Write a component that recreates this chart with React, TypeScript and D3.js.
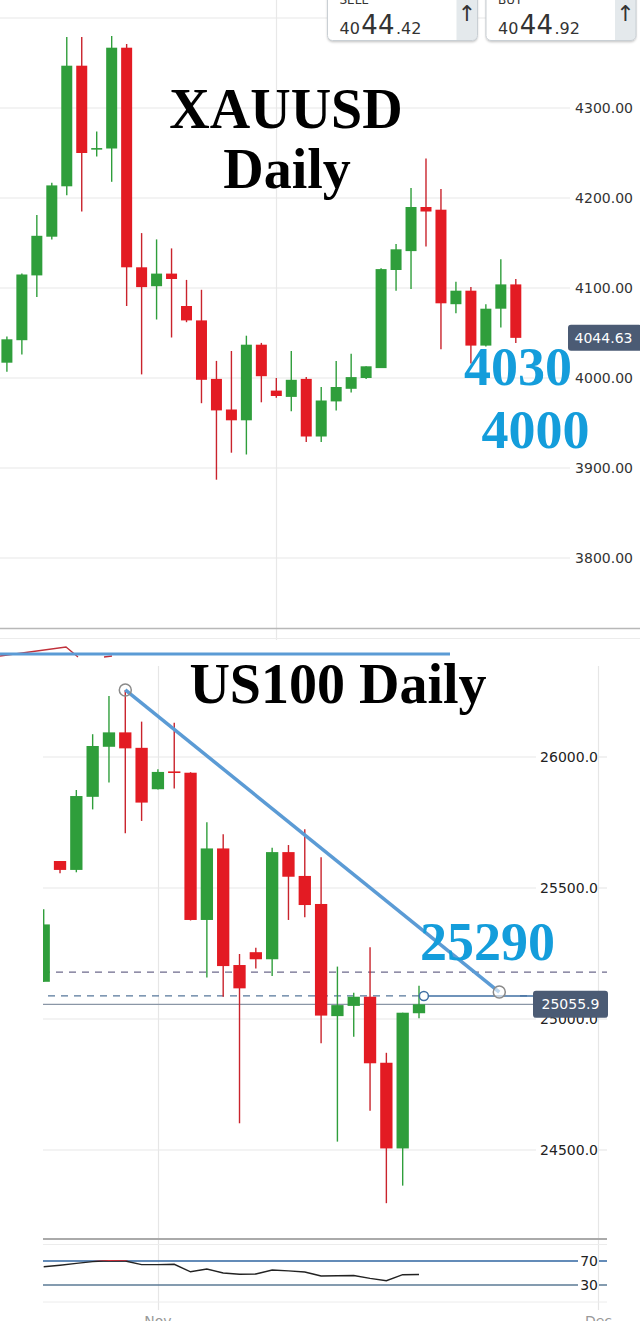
import React from "react";
import * as d3 from "d3";

// ---------- XAUUSD daily (top panel) ----------
const xauOpen = [4017, 4042, 4114, 4157, 4213, 4347, 4254.5, 4255, 4367, 4123, 4102, 4116, 4080, 4064, 3999, 3965, 3953, 4037, 3986, 3979, 3999, 3935, 3974, 3988, 4000, 4011, 4120, 4141, 4190, 4187, 4082, 4097, 4036, 4077, 4104];
const xauHigh = [4046, 4116, 4181, 4217, 4379, 4379, 4274, 4380, 4371, 4161, 4154, 4144, 4109, 4098, 4019, 4030, 4047, 4039, 4000, 4030, 4001, 3990, 4019, 4027, 4013, 4122, 4149, 4211, 4244, 4210, 4107, 4101, 4082, 4132, 4110];
const xauLow = [4007, 4026, 4090, 4154, 4203, 4185, 4246, 4218, 4080, 4004, 4065, 4045, 4062, 3972, 3887, 3917, 3915, 3973, 3978, 3963, 3929, 3929, 3964, 3984, 3999, 4011, 4097, 4099, 4146, 4032, 4072, 4016, 4035, 4056, 4039];
const xauClose = [4043, 4115, 4158, 4214, 4347, 4250, 4255.5, 4367, 4123, 4101, 4116, 4110, 4064, 3998, 3964, 3953, 4037, 4002, 3980, 3998, 3935, 3975, 3990, 4001, 4013, 4121, 4143, 4190, 4185, 4083, 4097, 4036, 4077, 4104, 4044.6];
const xauGrid = [4400, 4300, 4200, 4100, 4000, 3900, 3800];
const xauTickLabels = [4300, 4200, 4100, 4000, 3900, 3800];
const xauLastPrice = 4044.63;
const xauTargets = ["4030", "4000"];
const xauVGridIndex = [18];

// ---------- US100 daily (bottom panel) ----------
const nasOpen = [25142, 25603, 25569, 25848, 26039, 26094, 26035, 25877, 25945, 25940, 25378, 25651, 25206, 25255, 25228, 25637, 25546, 25439, 25011, 25050, 25085, 24833, 24506, 25022];
const nasHigh = [25419, 25603, 25874, 26087, 26233, 26256, 26135, 25953, 26131, 25942, 25751, 25705, 25248, 25272, 25654, 25664, 25724, 25617, 25200, 25100, 25274, 24871, 25024, 25127];
const nasLow = [25142, 25556, 25560, 25800, 25903, 25709, 25756, 25876, 25880, 25376, 25158, 25085, 24602, 25193, 25164, 25378, 25388, 24907, 24532, 24932, 24650, 24297, 24364, 25003];
const nasClose = [25361, 25569, 25851, 26042, 26094, 26033, 25826, 25943, 25941, 25378, 25651, 25202, 25117, 25228, 25637, 25543, 25435, 25013, 25053, 25085, 24831, 24506, 25024, 25056];
const nasTicks = [26000, 25500, 25000, 24500];
const nasLastPrice = 25055.9;
const nasRsi = [60.5, 63, 66, 69, 70.5, 70, 64, 64, 64.5, 52, 56.7, 50, 48, 48.3, 55, 53.5, 51.7, 45, 45.3, 45.8, 41, 37.2, 47.2, 47.5];
const rsiTicks = [70, 30];
const dateLabels = ["Nov", "Dec"];
const dateIndex = [7, 34];
const nasTrend = [[5, 26256], [27.92, 25103]];
const nasDashed = [25179, 25088];
const nasLevel = { index: 23.3, value: 25088 };
const nasTarget = "25290";

const GREEN = "#2f9e3b";
const RED = "#e31b23";
const RED_WICK = "#c9232c";
const BLUE_TXT = "#149ddb";
const TREND = "#5b9bd5";
const SANS = "DejaVu Sans, sans-serif";
const SERIF = "Liberation Serif, Times New Roman, serif";

function Candles({ open, high, low, close, x, y, w }) {
  return (
    <g>
      {open.map((o, i) => {
        const c = close[i];
        const up = c >= o;
        const col = up ? GREEN : RED;
        const top = y(Math.max(o, c));
        const bot = y(Math.min(o, c));
        const cx = x(i);
        return (
          <g key={i}>
            <line x1={cx} x2={cx} y1={y(high[i])} y2={y(low[i])} stroke={up ? GREEN : RED_WICK} strokeWidth={1.4} />
            <rect x={cx - w / 2} y={top} width={w} height={Math.max(1.6, bot - top)} fill={col} />
          </g>
        );
      })}
    </g>
  );
}

function PriceBox({ x0, label, big, tail, small }) {
  const w = 150;
  return (
    <g>
      <defs>
        <clipPath id={"clip-" + label}>
          <rect x={x0} y={-10} width={w} height={50.5} rx={5} />
        </clipPath>
      </defs>
      <rect x={x0} y={-10} width={w} height={50.5} rx={5} fill="#fff" filter="url(#shadow)" />
      <rect x={x0 + w - 21} y={-10} width={21} height={51} fill="#e4e9ec" clipPath={`url(#clip-${label})`} />
      <rect x={x0} y={-10} width={w} height={50.5} rx={5} fill="none" stroke="#c9cfd4" strokeWidth={1} />
      <text x={x0 + 12} y={4} fontFamily={SANS} fontSize={12} fill="#333">{label}</text>
      <text x={x0 + w - 10.5} y={21} textAnchor="middle" fontFamily={SANS} fontSize={22} fill="#333">↑</text>
      <text x={x0 + 12} y={34} fontFamily={SANS} fill="#333">
        <tspan fontSize={16}>{small}</tspan>
        <tspan fontSize={26} dx={1.5}>{big}</tspan>
        <tspan fontSize={16} dx={1.5}>{tail}</tspan>
      </text>
    </g>
  );
}

export default function App() {
  // top panel scales
  const xX = d3.scaleLinear().domain([0, 34]).range([6.9, 515.8]);
  const yX = d3.scaleLinear().domain([3800, 4400]).range([558, 18]);
  // bottom panel scales
  const xN = d3.scaleLinear().domain([0, 23]).range([43.7, 419]);
  const yN = d3.scaleLinear().domain([24500, 26000]).range([1150, 757]);
  const yR = d3.scaleLinear().domain([30, 70]).range([1285, 1261]);

  const rsiLine = d3.line<number>().x((_, i) => xN(i)).y((d) => yR(d));

  // decorative remnant of the upper screenshot's indicator
  const remnant = d3.line()([[0, 656], [66, 647], [78, 657]]);

  return (
    <svg width={640} height={1321} style={{ position: "absolute", left: 0, top: 0, background: "#fff" }} xmlns="http://www.w3.org/2000/svg">
      <defs>
        <filter id="shadow" x="-10%" y="-10%" width="120%" height="140%">
          <feDropShadow dx={0} dy={1.5} stdDeviation={1.2} floodColor="#000" floodOpacity={0.25} />
        </filter>
        <clipPath id="nasClip">
          <rect x={43} y={660} width={557} height={580} />
        </clipPath>
        <clipPath id="rsiAbove">
          <rect x={43} y={1200} width={560} height={yR(70) - 1200} />
        </clipPath>
      </defs>
      <rect x={0} y={0} width={640} height={1321} fill="#fff" />

      {/* ===== TOP PANEL ===== */}
      {xauVGridIndex.map((i) => (
        <line key={i} x1={Math.round(xX(i)) + 0.5} x2={Math.round(xX(i)) + 0.5} y1={0} y2={640} stroke="#e8e8e8" strokeWidth={1.2} />
      ))}
      {xauGrid.map((t) => (
        <line key={t} x1={0} x2={570} y1={yX(t)} y2={yX(t)} stroke="#e8e8e8" strokeWidth={1.2} />
      ))}
      {xauTickLabels.map((t) => (
        <text key={t} x={633} y={yX(t)} dy="0.36em" textAnchor="end" fontFamily={SANS} fontSize={14} fill="#333">{t.toFixed(2)}</text>
      ))}
      <Candles open={xauOpen} high={xauHigh} low={xauLow} close={xauClose} x={xX} y={yX} w={11} />

      <text x={286} y={128} textAnchor="middle" fontFamily={SERIF} fontWeight="bold" fontSize={56} fill="#000">XAUUSD</text>
      <text x={287} y={188} textAnchor="middle" fontFamily={SERIF} fontWeight="bold" fontSize={56} fill="#000">Daily</text>

      <rect x={568} y={yX(xauLastPrice) - 13} width={74} height={26} rx={3} fill="#4b5b74" />
      <text x={603.5} y={yX(xauLastPrice)} dy="0.36em" textAnchor="middle" fontFamily={SANS} fontSize={14} fill="#fff">{xauLastPrice.toFixed(2)}</text>

      <text x={518} y={385} textAnchor="middle" fontFamily={SERIF} fontWeight="bold" fontSize={54} fill={BLUE_TXT}>{xauTargets[0]}</text>
      <text x={535.5} y={448} textAnchor="middle" fontFamily={SERIF} fontWeight="bold" fontSize={54} fill={BLUE_TXT}>{xauTargets[1]}</text>

      <PriceBox x0={327.5} label="SELL" small="40" big="44" tail=".42" />
      <PriceBox x0={486} label="BUY" small="40" big="44" tail=".92" />

      {/* panel separator */}
      <line x1={0} x2={640} y1={628.5} y2={628.5} stroke="#b8b8b8" strokeWidth={1.5} />
      <line x1={0} x2={640} y1={638.5} y2={638.5} stroke="#ececec" strokeWidth={1} />
      <path d={remnant} fill="none" stroke="#c0303a" strokeWidth={1.3} />
      <line x1={104} x2={112} y1={657} y2={656} stroke="#c0303a" strokeWidth={1.3} />
      <line x1={0} x2={450} y1={654} y2={654} stroke={TREND} strokeWidth={3} />

      {/* ===== BOTTOM PANEL ===== */}
      {dateIndex.map((i) => (
        <line key={i} x1={Math.round(xN(i)) + 0.5} x2={Math.round(xN(i)) + 0.5} y1={666} y2={1310} stroke="#e6e6e6" strokeWidth={1.2} />
      ))}
      {nasTicks.map((t) => (
        <g key={t}>
          <line x1={43} x2={536} y1={yN(t)} y2={yN(t)} stroke="#e8e8e8" strokeWidth={1.2} />
          <line x1={599} x2={607} y1={yN(t)} y2={yN(t)} stroke="#e8e8e8" strokeWidth={1.2} />
          <text x={598} y={yN(t)} dy="0.36em" textAnchor="end" fontFamily={SANS} fontSize={14} fill="#222">{t.toFixed(1)}</text>
        </g>
      ))}

      <line x1={43} x2={607} y1={yN(nasDashed[0])} y2={yN(nasDashed[0])} stroke="#6d6a8c" strokeWidth={1.3} strokeDasharray="7 6" />
      <line x1={48} x2={xN(nasLevel.index)} y1={yN(nasDashed[1])} y2={yN(nasDashed[1])} stroke="#56779a" strokeWidth={1.3} strokeDasharray="7 6" />
      <line x1={520} x2={607} y1={yN(nasDashed[1])} y2={yN(nasDashed[1])} stroke="#56779a" strokeWidth={1.3} strokeDasharray="7 6" />
      <line x1={43} x2={600} y1={yN(nasLastPrice)} y2={yN(nasLastPrice)} stroke="#8a96a6" strokeWidth={1.2} />

      <g clipPath="url(#nasClip)">
        <Candles open={nasOpen} high={nasHigh} low={nasLow} close={nasClose} x={xN} y={yN} w={12.3} />
      </g>

      <line x1={xN(nasLevel.index)} x2={535} y1={yN(nasLevel.value)} y2={yN(nasLevel.value)} stroke="#3f6fa3" strokeWidth={1.5} />
      <circle cx={xN(nasLevel.index)} cy={yN(nasLevel.value)} r={4.5} fill="#fff" stroke="#3f6fa3" strokeWidth={1.5} />

      <line x1={xN(nasTrend[0][0])} y1={yN(nasTrend[0][1])} x2={xN(nasTrend[1][0])} y2={yN(nasTrend[1][1])} stroke={TREND} strokeWidth={3.5} />
      <circle cx={xN(nasTrend[0][0])} cy={yN(nasTrend[0][1])} r={6} fill="none" stroke="#8a8a8a" strokeWidth={1.5} />
      <circle cx={xN(nasTrend[1][0])} cy={yN(nasTrend[1][1])} r={6} fill="rgba(255,255,255,0.6)" stroke="#8a8a8a" strokeWidth={1.5} />

      <text x={338} y={703} textAnchor="middle" fontFamily={SERIF} fontWeight="bold" fontSize={56} fill="#000">US100 Daily</text>
      <text x={487.5} y={960} textAnchor="middle" fontFamily={SERIF} fontWeight="bold" fontSize={54} fill={BLUE_TXT}>{nasTarget}</text>

      <rect x={533} y={yN(nasLastPrice) - 13.5} width={75} height={27} rx={3} fill="#4b5b74" />
      <text x={570.5} y={yN(nasLastPrice)} dy="0.36em" textAnchor="middle" fontFamily={SANS} fontSize={14} fill="#fff">{nasLastPrice.toFixed(1)}</text>

      {/* RSI panel */}
      <line x1={43} x2={607} y1={1239} y2={1239} stroke="#aaaaaa" strokeWidth={2} />
      <line x1={43} x2={607} y1={1244.5} y2={1244.5} stroke="#ececec" strokeWidth={1} />
      <line x1={43} x2={607} y1={1302} y2={1302} stroke="#ececec" strokeWidth={1} />
      {rsiTicks.map((t, k) => (
        <g key={t}>
          <line x1={43} x2={578} y1={yR(t)} y2={yR(t)} stroke={k === 0 ? "#2f64a0" : "#5b7a94"} strokeWidth={1.5} />
          <line x1={599} x2={607} y1={yR(t)} y2={yR(t)} stroke={k === 0 ? "#2f64a0" : "#5b7a94"} strokeWidth={1.5} />
          <text x={598} y={yR(t)} dy="0.36em" textAnchor="end" fontFamily={SANS} fontSize={14} fill="#222">{t}</text>
        </g>
      ))}
      <path d={rsiLine(nasRsi) || ""} fill="none" stroke="#222" strokeWidth={1.4} />
      <path d={rsiLine(nasRsi) || ""} fill="none" stroke="#d0303a" strokeWidth={1.4} clipPath="url(#rsiAbove)" />

      {dateLabels.map((lab, k) => (
        <text key={lab} x={xN(dateIndex[k])} y={1326} textAnchor="middle" fontFamily={SANS} fontSize={14} fill="#999">{lab}</text>
      ))}
    </svg>
  );
}
